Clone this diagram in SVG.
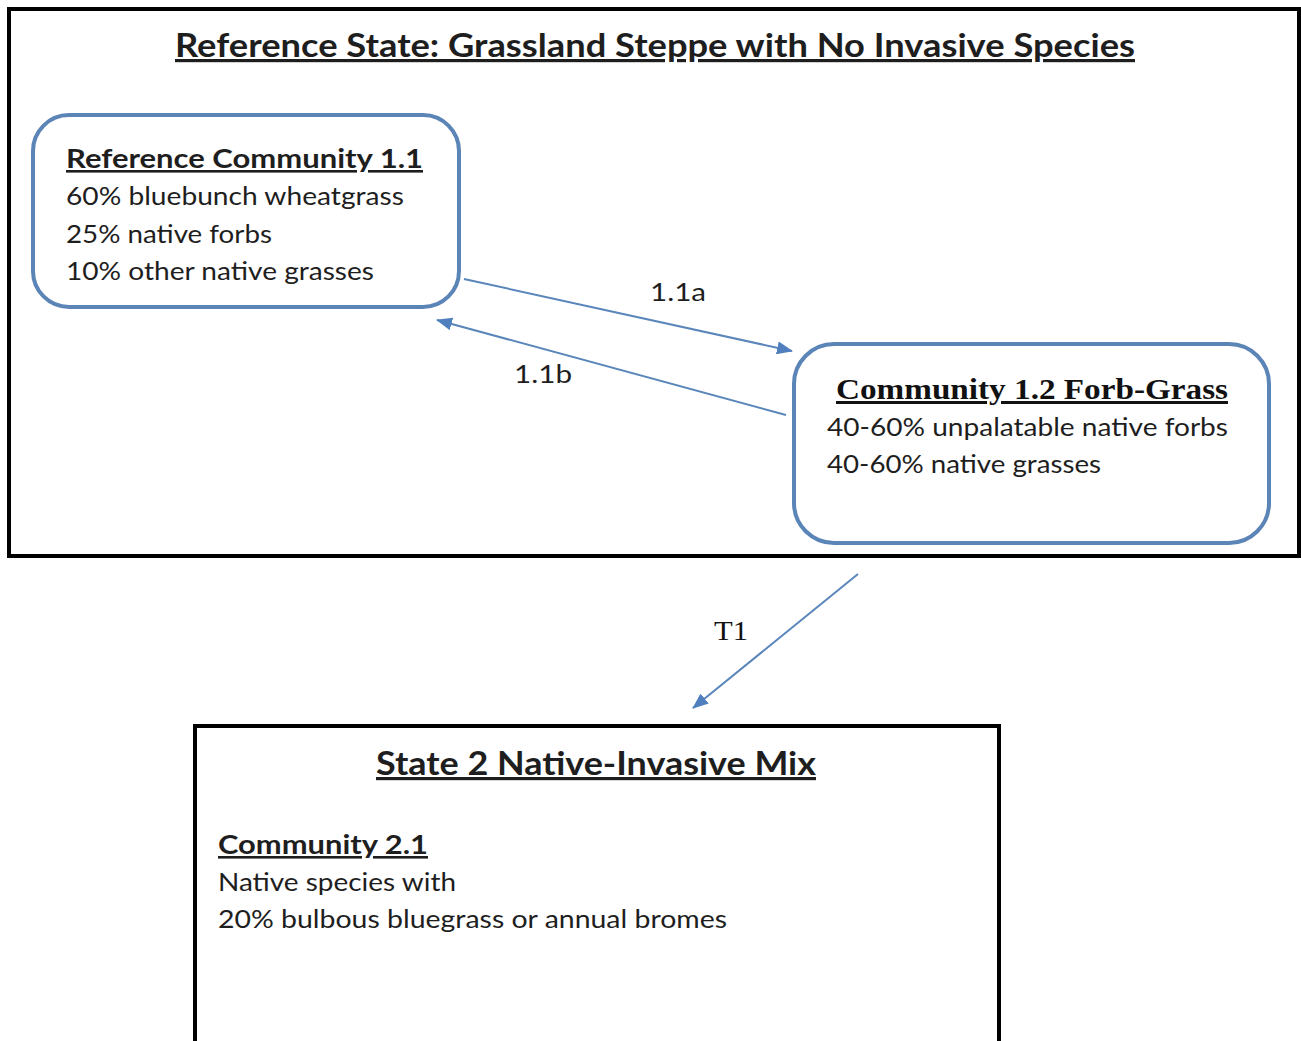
<svg xmlns="http://www.w3.org/2000/svg" width="1301" height="1041" viewBox="0 0 1301 1041">
<style>
.state{fill:#fff;stroke:#000;stroke-width:4}
.comm{fill:#fff;stroke:#5b84b7;stroke-width:4}
.t{font-family:Lato,"Open Sans","Liberation Sans",sans-serif;fill:#1e1e1e}
.title{font-size:32px;font-weight:bold;text-decoration:underline}
.head{font-size:26px;font-weight:bold;text-decoration:underline}
.body{font-size:25px}
.serif{font-family:"Liberation Serif","DejaVu Serif",serif;fill:#111}
.conn{stroke:#5a86bb;stroke-width:2;fill:none}
</style>
<defs>
<marker id="ah" viewBox="0 0 16 13" refX="15" refY="6.5" markerWidth="16" markerHeight="13" markerUnits="userSpaceOnUse" orient="auto">
<path d="M0,0 L16,6.5 L0,13 Z" fill="#4f7fbd"/>
</marker>
</defs>
<rect width="1301" height="1041" fill="#fff"/>
<g id="state1">
<rect class="state" x="9" y="9" width="1290" height="547"/>
<text class="t title" x="175" y="57" textLength="960" lengthAdjust="spacingAndGlyphs">Reference State: Grassland Steppe with No Invasive Species</text>
</g>
<g id="community11">
<rect class="comm" x="33" y="115" width="426" height="192" rx="36"/>
<text class="t head" x="66" y="168" textLength="357" lengthAdjust="spacingAndGlyphs">Reference Community 1.1</text>
<text class="t body" x="66" y="205" textLength="338" lengthAdjust="spacingAndGlyphs">60% bluebunch wheatgrass</text>
<text class="t body" x="66" y="243" textLength="206" lengthAdjust="spacingAndGlyphs">25% native forbs</text>
<text class="t body" x="66" y="280" textLength="308" lengthAdjust="spacingAndGlyphs">10% other native grasses</text>
</g>
<g id="community12">
<rect class="comm" x="794" y="344" width="475" height="199" rx="40"/>
<text class="serif" x="836" y="399" font-size="30" font-weight="bold" text-decoration="underline" textLength="392" lengthAdjust="spacingAndGlyphs">Community 1.2 Forb-Grass</text>
<text class="t body" x="827" y="436" textLength="401" lengthAdjust="spacingAndGlyphs">40-60% unpalatable native forbs</text>
<text class="t body" x="827" y="473" textLength="274" lengthAdjust="spacingAndGlyphs">40-60% native grasses</text>
</g>
<g id="state2">
<rect class="state" x="195" y="726" width="804" height="330"/>
<text class="t title" x="376" y="775" textLength="440" lengthAdjust="spacingAndGlyphs">State 2 Native-Invasive Mix</text>
<text class="t head" x="218" y="854" textLength="210" lengthAdjust="spacingAndGlyphs">Community 2.1</text>
<text class="t body" x="218" y="891" textLength="238" lengthAdjust="spacingAndGlyphs">Native species with</text>
<text class="t body" x="218" y="928" textLength="509" lengthAdjust="spacingAndGlyphs">20% bulbous bluegrass or annual bromes</text>
</g>
<g id="connectors">
<line class="conn" x1="464" y1="279" x2="792" y2="351" marker-end="url(#ah)"/>
<line class="conn" x1="786" y1="415" x2="437" y2="320" marker-end="url(#ah)"/>
<line class="conn" x1="858" y1="574" x2="693" y2="708" marker-end="url(#ah)"/>
<text class="t body" x="650" y="301" textLength="56" lengthAdjust="spacingAndGlyphs">1.1a</text>
<text class="t body" x="514" y="383" textLength="58" lengthAdjust="spacingAndGlyphs">1.1b</text>
<text class="serif" x="714" y="640" font-size="28" textLength="34" lengthAdjust="spacingAndGlyphs">T1</text>
</g>
</svg>
